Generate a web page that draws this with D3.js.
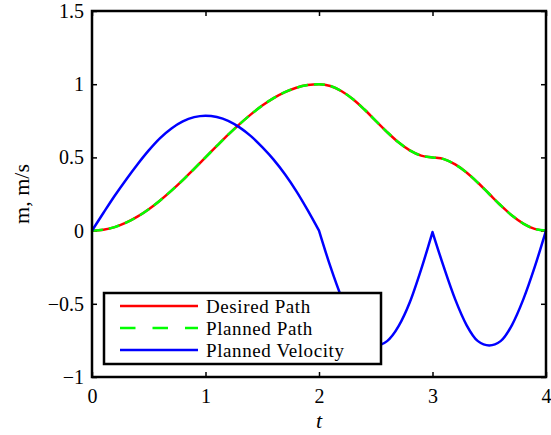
<!DOCTYPE html>
<html>
<head>
<meta charset="utf-8">
<script src="https://cdn.jsdelivr.net/npm/d3@7"></script>
<style>
  body { margin: 0; background: #fff; }
  svg text { font-family: 'Liberation Serif', 'Times New Roman', Times, serif !important; fill: #000; }
  .tick text { font-size: 20px; }
  .tick line { stroke: #000; stroke-width: 1.5; }
</style>
</head>
<body>
<div id="chart"></div>
<script>
// time samples (s)
var time = [0, 0.1, 0.2, 0.3, 0.4, 0.5, 0.6, 0.7, 0.8, 0.9,
            1, 1.1, 1.2, 1.3, 1.4, 1.5, 1.6, 1.7, 1.8, 1.9,
            2, 2.1, 2.2, 2.3, 2.4, 2.5, 2.6, 2.7, 2.8, 2.9,
            3, 3.1, 3.2, 3.3, 3.4, 3.5, 3.6, 3.7, 3.8, 3.9, 4];

var desiredPath = [0, 0.006, 0.024, 0.054, 0.095, 0.146, 0.206, 0.273, 0.345, 0.422,
                   0.5, 0.578, 0.655, 0.727, 0.794, 0.854, 0.905, 0.946, 0.976, 0.994,
                   1, 0.988, 0.952, 0.897, 0.827, 0.75, 0.673, 0.603, 0.548, 0.512,
                   0.5, 0.488, 0.452, 0.397, 0.327, 0.25, 0.173, 0.103, 0.048, 0.012, 0];

var plannedPath = [0, 0.006, 0.024, 0.054, 0.095, 0.146, 0.206, 0.273, 0.345, 0.422,
                   0.5, 0.578, 0.655, 0.727, 0.794, 0.854, 0.905, 0.946, 0.976, 0.994,
                   1, 0.988, 0.952, 0.897, 0.827, 0.75, 0.673, 0.603, 0.548, 0.512,
                   0.5, 0.488, 0.452, 0.397, 0.327, 0.25, 0.173, 0.103, 0.048, 0.012, 0];

var plannedVelocity = [0, 0.12, 0.238, 0.348, 0.452, 0.548, 0.632, 0.698, 0.746, 0.775,
                       0.785, 0.776, 0.75, 0.705, 0.645, 0.57, 0.485, 0.385, 0.27, 0.14,
                       0, -0.245, -0.46, -0.635, -0.745, -0.785, -0.755, -0.655, -0.49, -0.265,
                       -0.01, -0.25, -0.47, -0.645, -0.755, -0.785, -0.755, -0.645, -0.47, -0.25, 0];

// velocity has corners where the planner switches segments
var velocityBreaks = [0, 20, 30, 40];

var xTicks = [0, 1, 2, 3, 4];
var yTicks = [-1, -0.5, 0, 0.5, 1, 1.5];
var legendLabels = ["Desired Path", "Planned Path", "Planned Velocity"];

var margin = {top: 11, right: 5, bottom: 58, left: 92};
var width  = 551 - margin.left - margin.right;
var height = 435 - margin.top - margin.bottom;

var x = d3.scaleLinear().range([0, width]).domain([0, 4]);
var y = d3.scaleLinear().range([height, 0]).domain([-1, 1.5]);

var fmt = function(d) { return String(d).replace("-", "\u2212"); };

var svg = d3.select("#chart").append("svg")
    .attr("width", 551).attr("height", 435);

var graph = svg.append("g").attr("transform", "translate(" + margin.left + "," + margin.top + ")");

// axes with inward ticks on all four sides
graph.append("g").attr("transform", "translate(0," + height + ")")
    .call(d3.axisBottom(x).tickValues(xTicks).tickSizeInner(-5).tickSizeOuter(0).tickPadding(12).tickFormat(fmt))
    .call(function(g) { g.select(".domain").remove(); });
graph.append("g")
    .call(d3.axisLeft(y).tickValues(yTicks).tickSizeInner(-5).tickSizeOuter(0).tickPadding(8).tickFormat(fmt))
    .call(function(g) { g.select(".domain").remove(); });
graph.append("g")
    .call(d3.axisTop(x).tickValues(xTicks).tickSizeInner(-5).tickSizeOuter(0).tickFormat(""))
    .call(function(g) { g.select(".domain").remove(); });
graph.append("g").attr("transform", "translate(" + width + ",0)")
    .call(d3.axisRight(y).tickValues(yTicks).tickSizeInner(-5).tickSizeOuter(0).tickFormat(""))
    .call(function(g) { g.select(".domain").remove(); });

var smooth = d3.line()
    .curve(d3.curveMonotoneX)
    .x(function(d) { return x(time[d]); });

var idx = d3.range(time.length);

graph.append("path").attr("d", smooth.y(function(i) { return y(desiredPath[i]); })(idx))
    .attr("fill", "none").attr("stroke", "#ff0000").attr("stroke-width", 2.5);
graph.append("path").attr("d", smooth.y(function(i) { return y(plannedPath[i]); })(idx))
    .attr("fill", "none").attr("stroke", "#00ff00").attr("stroke-width", 2.5)
    .attr("stroke-dasharray", "11,6");

var velD = "";
for (var k = 0; k < velocityBreaks.length - 1; k++) {
  var seg = d3.range(velocityBreaks[k], velocityBreaks[k + 1] + 1);
  var d = smooth.y(function(i) { return y(plannedVelocity[i]); })(seg);
  velD += k === 0 ? d : "L" + d.slice(1);
}
graph.append("path").attr("d", velD)
    .attr("fill", "none").attr("stroke", "#0000ff").attr("stroke-width", 2.5)
    .attr("stroke-linejoin", "round");

// frame
graph.append("rect").attr("x", 0).attr("y", 0).attr("width", width).attr("height", height)
    .attr("fill", "none").attr("stroke", "#000").attr("stroke-width", 2.5);

// legend
var legend = graph.append("g").attr("transform", "translate(" + (104 - margin.left) + "," + (293 - margin.top) + ")");
legend.append("rect").attr("width", 277).attr("height", 71)
    .attr("fill", "#fff").attr("stroke", "#000").attr("stroke-width", 2.5);
var colors = ["#ff0000", "#00ff00", "#0000ff"];
var dashes = [null, "15.5,17", null];
legendLabels.forEach(function(lbl, i) {
  var ly = 13 + i * 22;
  legend.append("line").attr("x1", 16).attr("x2", 94).attr("y1", ly).attr("y2", ly)
      .attr("stroke", colors[i]).attr("stroke-width", 2.5).attr("stroke-dasharray", dashes[i]);
  legend.append("text").attr("x", 102).attr("y", ly).attr("dy", "0.35em")
      .attr("font-size", 19)
      .attr("letter-spacing", 0.6)
      .text(lbl);
});

// axis labels
graph.append("text")
    .attr("x", width / 2)
    .attr("y", height + 51)
    .attr("text-anchor", "middle")
    .attr("font-style", "italic")
    .attr("font-size", 22)
    .text("t");

graph.append("text")
    .attr("transform", "rotate(-90)")
    .attr("x", -height / 2)
    .attr("y", 29 - margin.left)
    .attr("text-anchor", "middle")
    .attr("font-size", 22)
    .text("m, m/s");
</script>
</body>
</html>
